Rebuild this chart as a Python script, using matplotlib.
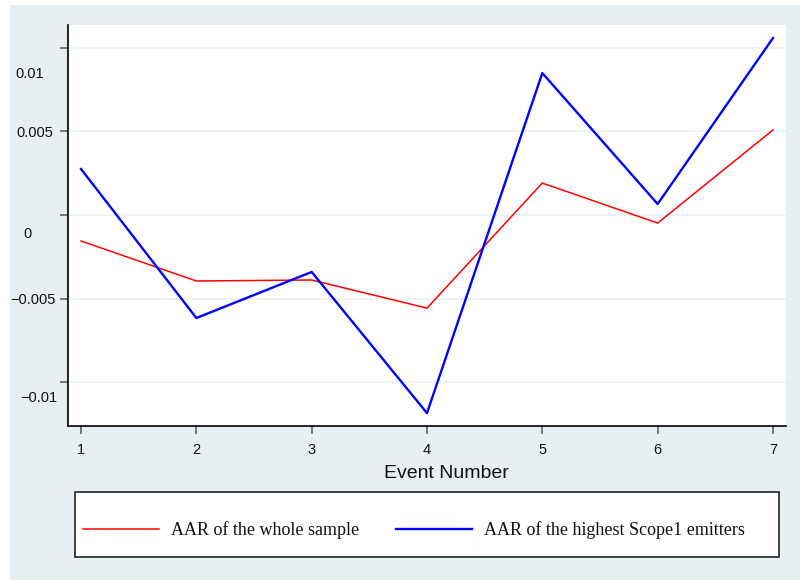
import matplotlib
matplotlib.use("Agg")
import matplotlib.pyplot as plt
from matplotlib.patches import Rectangle
from matplotlib.transforms import ScaledTranslation

# Data
events = [1, 2, 3, 4, 5, 6, 7]
aar_whole = [-0.00155, -0.00394, -0.00388, -0.00556, 0.00191, -0.00048, 0.00508]
aar_scope1 = [0.00275, -0.00615, -0.0034, -0.01183, 0.00848, 0.00066, 0.01057]
yticks = [-0.01, -0.005, 0, 0.005, 0.01]
ytick_labels = ["\u22120.01", "\u22120.005", "0", "0.005", "0.01"]
series_labels = ["AAR of the whole sample", "AAR of the highest Scope1 emitters"]

W, H = 800, 580
fig = plt.figure(figsize=(W / 100, H / 100), dpi=100)
fig.patch.set_facecolor("white")
bg = "#e8eff2"
fig.patches.append(Rectangle((10 / W, 0), 1 - 10 / W, 1 - 5 / H,
                             transform=fig.transFigure, facecolor=bg,
                             edgecolor="none", zorder=-10))

def fx(px):
    return px / W

def fy(py):
    return 1 - py / H

ax = fig.add_axes([fx(68), fy(426), fx(786) - fx(68), fy(25) - fy(426)])
ax.set_facecolor("white")

ax.plot(events, aar_whole, color="#ff0000", lw=1.1, label=series_labels[0], zorder=3)
ax.plot(events, aar_scope1, color="#0000ff", lw=1.7, label=series_labels[1], zorder=3)

ax.set_xlim(0.887, 7.113)
ax.set_ylim(-0.0126, 0.01135)

ax.set_yticks(yticks)
ax.set_yticklabels(ytick_labels)
ax.set_xticks(events)
ax.set_xticklabels([str(e) for e in events])

for s in ["top", "right"]:
    ax.spines[s].set_visible(False)
for s in ["left", "bottom"]:
    ax.spines[s].set_color("black")
    ax.spines[s].set_linewidth(1.2)

ax.grid(axis="y", color="#eef3f5", lw=1.4, zorder=0)
ax.set_axisbelow(True)

ax.tick_params(axis="both", length=5.8, width=1.1, color="#555555",
               labelsize=10.5, labelcolor="#111111")
ax.tick_params(axis="x", pad=6.5)
ax.tick_params(axis="y", pad=0)

for lab in ax.get_xticklabels() + ax.get_yticklabels():
    lab.set_fontfamily("Liberation Sans")

# Stata-style offset y labels
offsets = {"\u22120.01": (-21, 14), "\u22120.005": (-27, 0), "0": (-32, 17),
           "0.005": (-25, 0), "0.01": (-30, 25)}
for lab in ax.get_yticklabels():
    dx, dy = offsets.get(lab.get_text(), (0, 0))
    lab.set_horizontalalignment("center")
    lab.set_transform(lab.get_transform() + ScaledTranslation(dx / 100, -dy / 100, fig.dpi_scale_trans))

ax.set_xlabel("Event Number", fontsize=14, fontfamily="Liberation Sans", color="#111111")
ax.xaxis.set_label_coords((446 - 68) / (786 - 68), (426 - 474) / (426 - 25))
ax.xaxis.label.set_verticalalignment("center")

# Legend box
fig.patches.append(Rectangle((fx(75), fy(557)), fx(779) - fx(75), fy(492) - fy(557),
                             transform=fig.transFigure, facecolor="white",
                             edgecolor="#222222", lw=1.2, zorder=1))
leg = fig.legend(loc="center left", bbox_to_anchor=(fx(83), fy(530)),
                 ncol=2, frameon=False, borderpad=0, borderaxespad=0,
                 handlelength=4.2, handletextpad=0.67, columnspacing=2.05,
                 prop={"family": "Liberation Serif", "size": 13})
for t in leg.get_texts():
    t.set_color("#111111")
leg.set_zorder(5)

fig.savefig("out.png", dpi=100, facecolor=fig.get_facecolor())
